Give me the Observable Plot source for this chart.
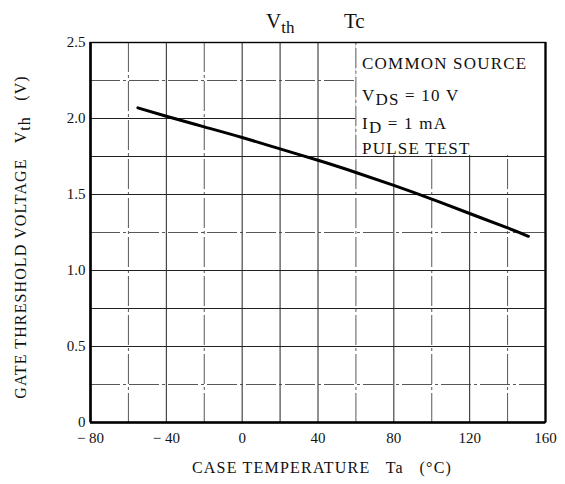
<!DOCTYPE html>
<html><head><meta charset="utf-8">
<script src="https://cdn.jsdelivr.net/npm/d3@7"></script>
<script src="https://cdn.jsdelivr.net/npm/@observablehq/plot@0.6"></script>
<style>body{margin:0;background:#fff}</style>
</head><body><div id="chart"></div>
<script>
const temps = [-55, -40, -20, 0, 20, 40, 60, 80, 100, 120, 140, 151];
const vth   = [2.07, 2.015, 1.945, 1.875, 1.80, 1.725, 1.645, 1.56, 1.47, 1.375, 1.28, 1.225];
const xTicks = [-80, -40, 0, 40, 80, 120, 160];
const yTicks = [0, 0.5, 1.0, 1.5, 2.0, 2.5];
const yTickLabels = ["0", "0.5", "1.0", "1.5", "2.0", "2.5"];
const xMajor = [-80, -40, 0, 20, 40, 80, 120, 160];
const xMinor = [-60, -20, 60, 100, 140];
const yMajor = [0, 0.5, 0.75, 1.0, 1.5, 1.75, 2.0, 2.5];
const yMinor = [0.25, 1.25, 2.25];
const legendLines = [
  {main: "COMMON SOURCE", sub: "", rest: ""},
  {main: "V", sub: "DS", rest: " = 10 V"},
  {main: "I", sub: "D", rest: " = 1 mA"},
  {main: "PULSE TEST", sub: "", rest: ""}
];
const legendY = [2.36, 2.15, 1.97, 1.80];

const data = temps.map((t, i) => ({t, v: vth[i]}));
const font = "'Liberation Serif', 'DejaVu Serif', serif";

const plot = Plot.plot({
  width: 565, height: 484,
  marginLeft: 90, marginRight: 20, marginTop: 42, marginBottom: 62,
  style: {fontFamily: font, fontSize: "15px", color: "#111", background: "#fff"},
  x: {domain: [-80, 160]},
  y: {domain: [0, 2.5]},
  marks: [
    Plot.ruleX(xMajor, {stroke: "#222", strokeWidth: 1}),
    Plot.ruleX(xMinor, {stroke: "#444", strokeWidth: 0.9, strokeDasharray: "30,3,3,3"}),
    Plot.ruleY(yMajor, {stroke: "#222", strokeWidth: 1}),
    Plot.ruleY(yMinor, {stroke: "#444", strokeWidth: 0.9, strokeDasharray: "30,3,3,3"}),
    Plot.rect([{}], {x1: 60, x2: 160, y1: 1.757, y2: 2.5, fill: "white"}),
    Plot.ruleX([60], {y1: 1.757, y2: 2.5, stroke: "#555", strokeWidth: 0.9, strokeDasharray: "20,3,3,3"}),
    Plot.line(data, {x: "t", y: "v", stroke: "#000", strokeWidth: 3, curve: "natural"}),
    Plot.frame({stroke: "#000", strokeWidth: 1.4}),
    Plot.ruleX([-80], {stroke: "#000", strokeWidth: 2.6}),
    Plot.ruleX([160], {stroke: "#000", strokeWidth: 2.2}),
    Plot.ruleY([0], {stroke: "#000", strokeWidth: 2.6}),
    Plot.axisX({ticks: xTicks, tickSize: 0, tickPadding: 10, label: null,
      tickFormat: d => d < 0 ? "\u2212 " + Math.abs(d) : String(d), fontSize: 15}),
    Plot.axisY({ticks: yTicks, tickSize: 0, tickPadding: 5, label: null,
      tickFormat: (d, i) => yTickLabels[i], fontSize: 15})
  ]
});
document.getElementById("chart").appendChild(plot);

const svg = d3.select(plot);
const xs = plot.scale("x"), ys = plot.scale("y");

// legend text with subscripts
const lg = svg.append("g").attr("font-family", font).attr("font-size", 17)
  .attr("fill", "#111").attr("text-anchor", "start").attr("letter-spacing", 1.2);
legendLines.forEach((l, i) => {
  const t = lg.append("text").attr("x", xs.apply(63.5)).attr("y", ys.apply(legendY[i])).attr("dy", "0.35em");
  t.append("tspan").text(l.main);
  if (l.sub) {
    t.append("tspan").attr("dy", 4).text(l.sub);
    t.append("tspan").attr("dy", -4).text(l.rest);
  }
});

// title
const title = svg.append("text").attr("x", 266).attr("y", 28).attr("text-anchor", "start")
  .attr("font-family", font).attr("font-size", 21).attr("fill", "#111");
title.append("tspan").text("V");
title.append("tspan").attr("dy", 5).attr("font-size", 17).text("th");
title.append("tspan").attr("dy", -5).attr("x", 344).text("Tc");

// x label
svg.append("text").attr("x", 322).attr("y", 473).attr("text-anchor", "middle")
  .attr("font-family", font).attr("font-size", 16).attr("fill", "#111").attr("letter-spacing", 1.2)
  .style("white-space", "pre")
  .text("CASE TEMPERATURE   Ta   (\u00B0C)");

// y label
const yl = svg.append("text").attr("transform", "translate(26,237) rotate(-90)").attr("text-anchor", "middle")
  .attr("font-family", font).attr("font-size", 16).attr("fill", "#111").attr("letter-spacing", 1.1)
  .style("white-space", "pre");
yl.append("tspan").text("GATE THRESHOLD VOLTAGE   V");
yl.append("tspan").attr("dy", 4).text("th");
yl.append("tspan").attr("dy", -4).text("   (V)");
</script></body></html>
